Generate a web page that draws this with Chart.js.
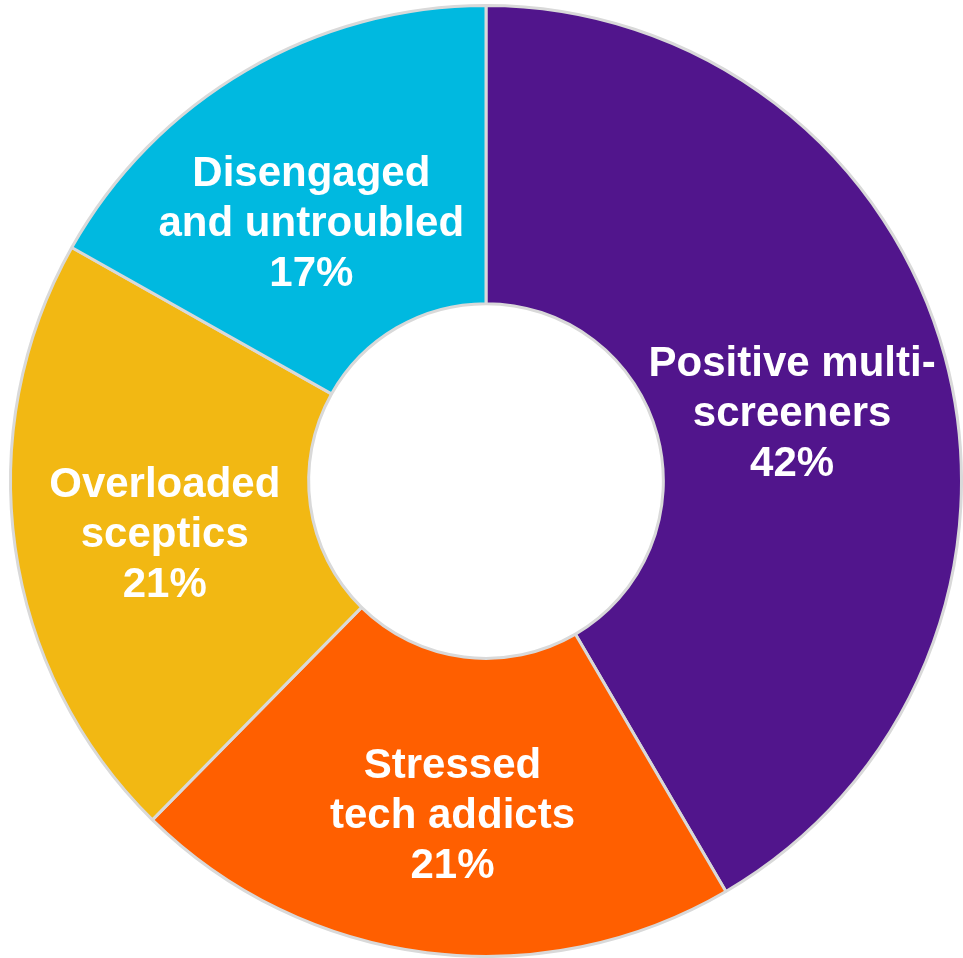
<!DOCTYPE html>
<html>
<head>
<meta charset="utf-8">
<script src="https://cdn.jsdelivr.net/npm/chart.js@4/dist/chart.umd.min.js"></script>
<style>
html,body{margin:0;padding:0;background:#ffffff;}
#wrap{width:963px;height:958px;position:relative;}
</style>
</head>
<body>
<div id="wrap"><canvas id="c" width="963" height="958"></canvas></div>
<script>
const categories = [
  ["Positive multi-", "screeners"],
  ["Stressed", "tech addicts"],
  ["Overloaded", "sceptics"],
  ["Disengaged", "and untroubled"]
];
const values = [42, 21, 21, 17];
const valueLabels = ["42%", "21%", "21%", "17%"];
const colors = ["#51158C", "#FF5F00", "#F2B813", "#00B9E0"];

const labelPlugin = {
  id: 'segLabels',
  afterDatasetsDraw(chart, args, opts) {
    const ctx = chart.ctx;
    const meta = chart.getDatasetMeta(0);
    ctx.save();
    ctx.fillStyle = '#ffffff';
    ctx.font = 'bold 42px "Liberation Sans", Arial, sans-serif';
    ctx.textAlign = 'center';
    ctx.textBaseline = 'middle';
    meta.data.forEach((arc, i) => {
      const p = arc.tooltipPosition();
      const off = opts.offsets[i];
      const x = p.x + off[0];
      const y = p.y + off[1];
      const lines = categories[i].concat([valueLabels[i]]);
      const lh = opts.lineHeight;
      lines.forEach((t, j) => {
        ctx.fillText(t, x, y + (j - 1) * lh);
      });
    });
    ctx.restore();
  }
};

new Chart(document.getElementById('c'), {
  type: 'doughnut',
  data: {
    labels: categories.map(c => c.join(' ')),
    datasets: [{
      data: values,
      backgroundColor: colors,
      borderColor: '#D9D9D9',
      borderWidth: 3
    }]
  },
  options: {
    responsive: false,
    animation: false,
    cutout: '37.3%',
    layout: { padding: { left: 9, right: 0, top: 4, bottom: 0 } },
    plugins: {
      legend: { display: false },
      tooltip: { enabled: false },
      segLabels: {
        lineHeight: 50,
        offsets: [[-9, 19], [7, 12], [2, 9], [-10, 25]]
      }
    }
  },
  plugins: [labelPlugin]
});
</script>
</body>
</html>
